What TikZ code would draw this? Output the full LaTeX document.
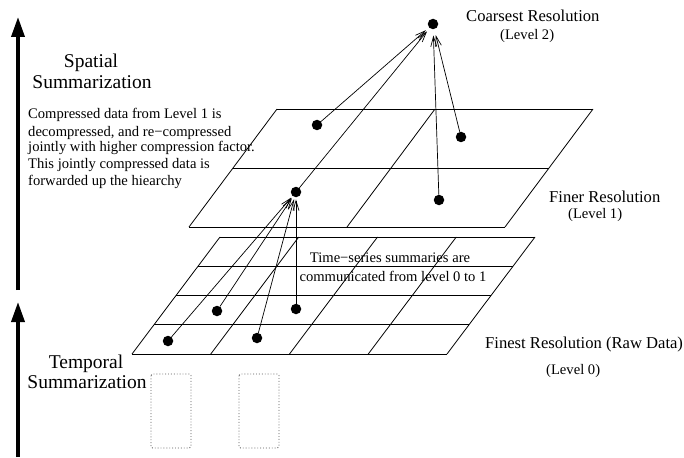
\documentclass[tikz,border=0pt]{standalone}
\usepackage{fontspec}
\setmainfont{Liberation Serif}
\usetikzlibrary{arrows.meta,calc}
\begin{document}
\begin{tikzpicture}[x=1pt,y=-1pt,
  gridline/.style={line width=0.8pt},
  dot/.style={circle,fill=black,inner sep=0pt,minimum size=10.5pt},
  flow/.style={line width=0.7pt,-{Straight Barb[length=10pt,width=6pt]}},
  bigarrow/.style={line width=3.5pt,-{Triangle[length=20pt,width=13pt]}},
  lbl/.style={font=\fontsize{16.6}{20}\selectfont,inner sep=0pt,anchor=base west},
  sublbl/.style={font=\fontsize{14.6}{17}\selectfont,inner sep=0pt,anchor=base west},
  head/.style={font=\fontsize{19.5}{21}\selectfont,inner sep=0pt,anchor=base},
  note/.style={font=\fontsize{14.6}{16.5}\selectfont,inner sep=0pt},
  ghost/.style={dotted,line width=0.9pt,black!65,rounded corners=1.5pt},
]
\useasboundingbox (0,0) rectangle (684,457);

% ---- Level 0 grid (4x4)
\coordinate (A0) at (132,354);
\coordinate (B0) at (447,354);
\coordinate (C0) at (535,237);
\coordinate (D0) at (220,237);
\foreach \t in {0,0.25,0.5,0.75,1} {
  \draw[gridline] ($(A0)!\t!(D0)$) -- ($(B0)!\t!(C0)$);
  \draw[gridline] ($(A0)!\t!(B0)$) -- ($(D0)!\t!(C0)$);
}

% ---- Level 1 grid (2x2)
\coordinate (A1) at (189,227);
\coordinate (B1) at (505,227);
\coordinate (C1) at (593,109);
\coordinate (D1) at (277,109);
\foreach \t in {0,0.5,1} {
  \draw[gridline] ($(A1)!\t!(D1)$) -- ($(B1)!\t!(C1)$);
  \draw[gridline] ($(A1)!\t!(B1)$) -- ($(D1)!\t!(C1)$);
}

% ---- dots
\node[dot] (top) at (433,24) {};
\node[dot] (m1) at (317,125) {};
\node[dot] (m2) at (461,137) {};
\node[dot] (m3) at (296,192) {};
\node[dot] (m4) at (439,200) {};
\node[dot] (f1) at (217,311) {};
\node[dot] (f2) at (296,309) {};
\node[dot] (f3) at (168,341) {};
\node[dot] (f4) at (257,338) {};

% ---- arrows level 1 -> level 2
\draw[flow,shorten >=4pt] (m1) -- (top);
\draw[flow,shorten >=4pt] (m3) -- (top);
\draw[flow,shorten >=6pt] (m4) -- (top);
\draw[flow,shorten >=6pt] (m2) -- (top);

% ---- arrows level 0 -> level 1
\draw[flow,shorten >=2pt] (f1) -- (m3);
\draw[flow,shorten >=2pt] (f2) -- (m3);
\draw[flow,shorten >=2pt] (f3) -- (m3);
\draw[flow,shorten >=2pt] (f4) -- (m3);

% ---- big side arrows
\coordinate (sA) at (18,290);
\coordinate (sB) at (18,17);
\coordinate (tA) at (18,457);
\coordinate (tB) at (18,302);
\draw[bigarrow] (sA) -- (sB);
\draw[bigarrow] (tA) -- (tB);

% ---- dotted boxes
\draw[ghost] (151,374) rectangle (191,448);
\draw[ghost] (239,374) rectangle (279,448);

% ---- labels
\node[lbl] (coarse) at (466,22) {Coarsest Resolution};
\node[sublbl] (lv2) at (500,40) {(Level 2)};
\node[lbl] (finer) at (549,202) {Finer Resolution};
\node[sublbl] (lv1) at (568,218) {(Level 1)};
\node[lbl] (finest) at (485,348) {Finest Resolution (Raw Data)};
\node[sublbl] (lv0) at (546,374) {(Level 0)};

\node[head] (sp1) at (91,68) {Spatial};
\node[head] (sp2) at (92,89) {Summarization};
\node[head] (tp1) at (86,368) {Temporal};
\node[head] (tp2) at (87,388) {Summarization};

\node[note,anchor=base west] (c1) at (28,119) {Compressed data from Level 1 is};
\node[note,anchor=base west] (c2) at (28,136) {decompressed, and re−compressed};
\node[note,anchor=base west] (c3) at (28,152) {jointly with higher compression factor.};
\node[note,anchor=base west] (c4) at (28,168) {This jointly compressed data is};
\node[note,anchor=base west] (c5) at (28,185) {forwarded up the hiearchy};

\node[note,anchor=base] (ts1) at (390,262) {Time−series summaries are};
\node[note,anchor=base] (ts2) at (393,281) {communicated from level 0 to 1};
\end{tikzpicture}
\end{document}
